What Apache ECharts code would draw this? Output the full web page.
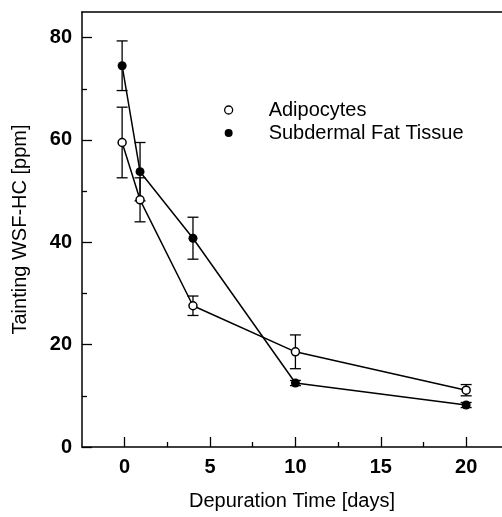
<!DOCTYPE html>
<html>
<head>
<meta charset="utf-8">
<script src="https://cdn.jsdelivr.net/npm/echarts@6/dist/echarts.min.js"></script>
<style>
html,body{margin:0;padding:0;background:#fff;}
#chart{width:502px;height:517px;}
</style>
</head>
<body>
<div id="chart"></div>
<script>
// ---- data ----
var days = [-0.15, 0.9, 4, 10, 20];
var adipocytes = [59.5, 48.3, 27.6, 18.6, 11.1];
var adipocytesErr = [6.9, 4.3, 1.9, 3.3, 1.1];
var subdermal = [74.5, 53.8, 40.8, 12.5, 8.2];
var subdermalErr = [4.85, 5.7, 4.1, 0.5, 0.5];
var xMajorTicks = [0, 5, 10, 15, 20];
var xMinorTicks = [2.5, 7.5, 12.5, 17.5];
var yMajorTicks = [0, 20, 40, 60, 80];
var yMinorTicks = [10, 30, 50, 70];
var seriesNames = ['Adipocytes', 'Subdermal Fat Tissue'];

var FONT = '"Liberation Sans", Arial, Helvetica, sans-serif';

function pairs(xs, ys) { return xs.map(function (x, i) { return [x, ys[i]]; }); }
function errData(xs, ys, es) { return xs.map(function (x, i) { return [x, ys[i] - es[i], ys[i] + es[i]]; }); }

function errRender(params, api) {
  var x = api.value(0);
  var lo = api.coord([x, api.value(1)]);
  var hi = api.coord([x, api.value(2)]);
  var hw = 5.5;
  var st = { stroke: '#000', lineWidth: 1.3 };
  return {
    type: 'group',
    children: [
      { type: 'line', shape: { x1: lo[0], y1: lo[1], x2: hi[0], y2: hi[1] }, style: st },
      { type: 'line', shape: { x1: lo[0] - hw, y1: lo[1], x2: lo[0] + hw, y2: lo[1] }, style: st },
      { type: 'line', shape: { x1: hi[0] - hw, y1: hi[1], x2: hi[0] + hw, y2: hi[1] }, style: st }
    ]
  };
}

var chart = echarts.init(document.getElementById('chart'), null, { renderer: 'canvas' });
var axisLine = { show: true, onZero: false, lineStyle: { color: '#000', width: 1.5 } };
var noLine = { show: false, onZero: false };
var option = {
  animation: false,
  backgroundColor: '#fff',
  textStyle: { fontFamily: FONT },
  grid: { left: 82, right: 0, top: 12, bottom: 70, containLabel: false },
  legend: {
    orient: 'vertical',
    left: 224,
    top: 100,
    padding: 0,
    itemWidth: 8,
    itemHeight: 8,
    itemGap: 3,
    selectedMode: false,
    textStyle: { fontFamily: FONT, fontSize: 20, color: '#000', lineHeight: 20, padding: [0, 0, 0, 31] },
    data: [
      { name: seriesNames[0], icon: 'circle', itemStyle: { color: '#fff', borderColor: '#000', borderWidth: 1.3 } },
      { name: seriesNames[1], icon: 'circle', itemStyle: { color: '#000', borderWidth: 0 } }
    ]
  },
  xAxis: [
    {
      type: 'value', min: -2.5, max: 22.1, position: 'bottom',
      axisLine: axisLine,
      axisTick: { show: true, inside: true, length: 10, customValues: xMajorTicks, lineStyle: { color: '#000', width: 1.3 } },
      axisLabel: { show: true, customValues: xMajorTicks, margin: 10, color: '#000', fontFamily: FONT, fontSize: 20, fontWeight: 'bold' },
      splitLine: { show: false },
      name: 'Depuration Time [days]', nameLocation: 'middle', nameGap: 44,
      nameTextStyle: { fontFamily: FONT, fontSize: 20, color: '#000' }
    },
    {
      type: 'value', min: -2.5, max: 22.1, position: 'bottom',
      axisLine: noLine,
      axisTick: { show: true, inside: true, length: 5, customValues: xMinorTicks, lineStyle: { color: '#000', width: 1.3 } },
      axisLabel: { show: false },
      splitLine: { show: false }
    },
    {
      type: 'value', min: -2.5, max: 22.1, position: 'top',
      axisLine: axisLine,
      axisTick: { show: false },
      axisLabel: { show: false },
      splitLine: { show: false }
    }
  ],
  yAxis: [
    {
      type: 'value', min: 0, max: 85, position: 'left',
      axisLine: axisLine,
      axisTick: { show: true, inside: true, length: 10, customValues: yMajorTicks, lineStyle: { color: '#000', width: 1.3 } },
      axisLabel: { show: true, customValues: yMajorTicks, margin: 10, color: '#000', fontFamily: FONT, fontSize: 20, fontWeight: 'bold' },
      splitLine: { show: false },
      name: 'Tainting WSF-HC [ppm]', nameLocation: 'middle', nameGap: 52,
      nameTextStyle: { fontFamily: FONT, fontSize: 20, color: '#000' }
    },
    {
      type: 'value', min: 0, max: 85, position: 'left',
      axisLine: noLine,
      axisTick: { show: true, inside: true, length: 5, customValues: yMinorTicks, lineStyle: { color: '#000', width: 1.3 } },
      axisLabel: { show: false },
      splitLine: { show: false }
    }
  ],
  series: [
    {
      type: 'custom', name: 'adipErr', xAxisIndex: 0, yAxisIndex: 0,
      data: errData(days, adipocytes, adipocytesErr), renderItem: errRender, z: 1,
      encode: { x: 0, y: [1, 2] }
    },
    {
      type: 'custom', name: 'subErr', xAxisIndex: 0, yAxisIndex: 0,
      data: errData(days, subdermal, subdermalErr), renderItem: errRender, z: 1,
      encode: { x: 0, y: [1, 2] }
    },
    {
      type: 'line', name: seriesNames[0], xAxisIndex: 0, yAxisIndex: 0,
      data: pairs(days, adipocytes),
      symbol: 'circle', symbolSize: 8, showAllSymbol: true,
      lineStyle: { color: '#000', width: 1.5 },
      itemStyle: { color: '#fff', borderColor: '#000', borderWidth: 1.5 },
      z: 3
    },
    {
      type: 'line', name: seriesNames[1], xAxisIndex: 0, yAxisIndex: 0,
      data: pairs(days, subdermal),
      symbol: 'circle', symbolSize: 9, showAllSymbol: true,
      lineStyle: { color: '#000', width: 1.5 },
      itemStyle: { color: '#000', borderColor: '#000', borderWidth: 0 },
      z: 3
    }
  ]
};
chart.setOption(option);
</script>
</body>
</html>
